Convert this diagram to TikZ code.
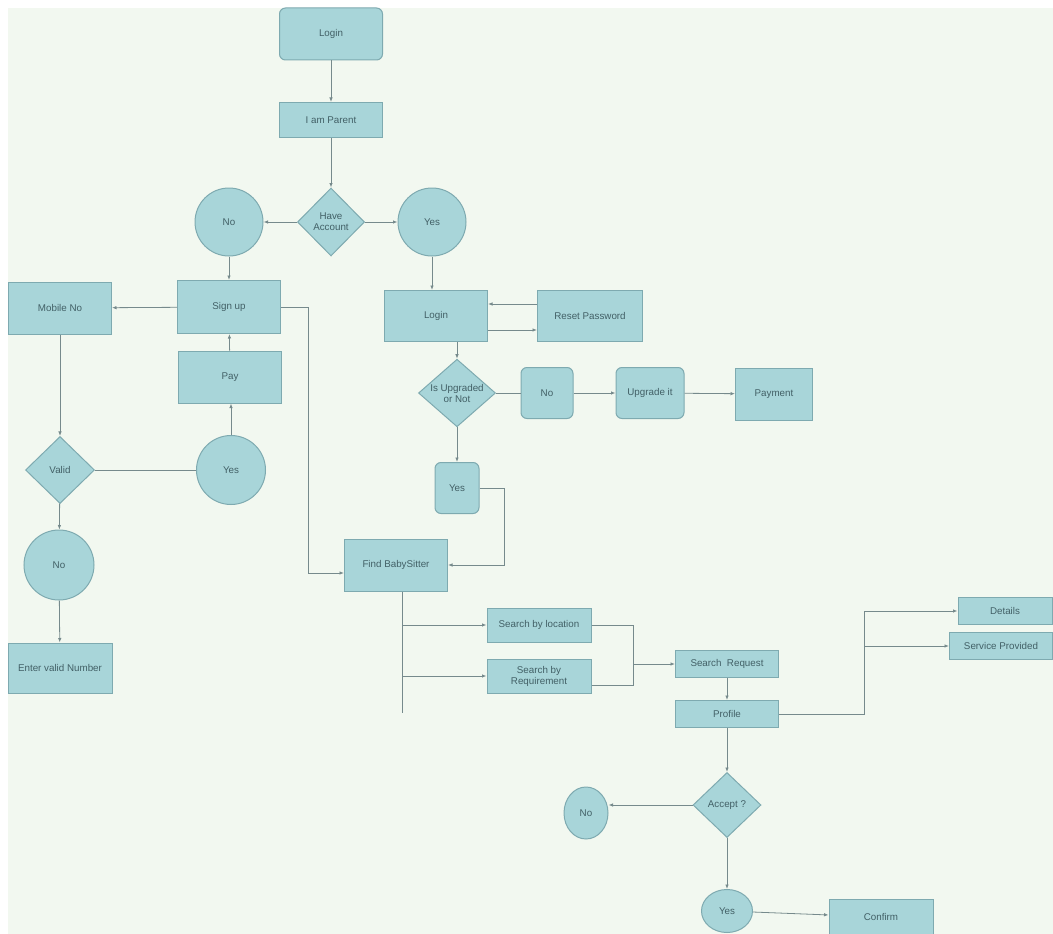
\documentclass[tikz,border=0pt]{standalone}
\usepackage{fontspec}
\setmainfont{Liberation Sans}
\usetikzlibrary{shapes.geometric,arrows.meta}

\definecolor{bgc}{RGB}{242,248,240}
\definecolor{nodefill}{RGB}{168,213,217}
\definecolor{nodedraw}{RGB}{126,170,176}
\definecolor{linec}{RGB}{118,138,140}
\definecolor{txtc}{RGB}{66,96,102}

\tikzset{every picture/.style={line width=0.75pt}}
\tikzset{
  base/.style={draw=nodedraw, fill=nodefill, text=txtc, line width=1pt,
    font=\fontsize{9.8}{11}\selectfont, align=center, inner sep=1pt},
  box/.style 2 args={base, rectangle, minimum width=#1, minimum height=#2},
  rbox/.style 2 args={base, rectangle, rounded corners=6pt, minimum width=#1, minimum height=#2},
  decision/.style 2 args={base, diamond, inner sep=-1pt, minimum width=#1, minimum height=#2},
  circ/.style={base, circle, inner sep=0pt, minimum size=#1},
  ell/.style 2 args={base, ellipse, inner sep=0pt, minimum width=#1, minimum height=#2},
  conn/.style={draw=linec, line width=0.8pt, -{Latex[length=4.5pt,width=3.5pt]}},
  plain/.style={draw=linec, line width=0.8pt}
}

\begin{document}
\begin{tikzpicture}[x=1pt,y=1pt,yscale=-1]
\useasboundingbox (0,0) rectangle (1053,934);
%Background
\fill[white] (0,0) rectangle (1053,934);
\fill[bgc] (8,8) rectangle (1053,934);

%Shape: top part
\node[rbox={103}{52}] (login) at (331,34) {Login};
\node[box={103}{35}] (parent) at (331,120) {I am Parent};
\node[decision={67}{68}] (hasacc) at (331,222) {Have\\Account};
\node[circ=68] (nocirc) at (229,222) {No};
\node[circ=68] (yescirc) at (432,222) {Yes};

%Shape: sign up side
\node[box={103}{53}] (signup) at (229,307) {Sign up};
\node[box={103}{52}] (mobile) at (60,308) {Mobile No};
\node[box={103}{52}] (pay) at (230,377) {Pay};
\node[decision={69}{67}] (valid) at (60,470) {Valid};
\node[circ=69] (yesleft) at (231,470) {Yes};
\node[circ=70] (noleft) at (59,565) {No};
\node[box={104}{50}] (entervalid) at (60,668) {Enter valid Number};

%Shape: login side
\node[box={103}{51}] (login2) at (436,316) {Login};
\node[box={105}{51}] (reset) at (590,316) {Reset Password};
\node[decision={77}{67}] (isup) at (457,393) {Is Upgraded\\or Not};
\node[rbox={52}{51}] (noup) at (547,393) {No};
\node[rbox={68}{51}] (upgrade) at (650,393) {Upgrade it};
\node[box={77}{52}] (payment) at (774,394) {Payment};
\node[rbox={44}{51}] (yesup) at (457,488) {Yes};

%Shape: search part
\node[box={103}{52}] (findbs) at (396,565) {Find BabySitter};
\node[box={104}{34}] (loc) at (539,625) {Search by location};
\node[box={104}{34}] (req) at (539,676) {Search by\\Requirement};
\node[box={103}{27}] (sreq) at (727,664) {Search\ \ Request};
\node[box={103}{27}] (profile) at (727,714) {Profile};
\node[box={94}{27}] (details) at (1005,611) {Details};
\node[box={103}{27}] (service) at (1001,646) {Service Provided};
\node[decision={68}{65}] (accept) at (727,805) {Accept ?};
\node[ell={44}{52}] (noacc) at (586,813) {No};
\node[ell={51}{43}] (yesacc) at (727,911) {Yes};
\node[box={104}{36}] (confirm) at (881,917) {Confirm};

%Straight Lines
\draw[conn] (login) -- (parent);
\draw[conn] (parent) -- (hasacc);
\draw[conn] (hasacc) -- (nocirc);
\draw[conn] (hasacc) -- (yescirc);
\draw[conn] (nocirc) -- (nocirc |- signup.north);
\draw[conn] (yescirc) -- (yescirc |- login2.north);
\draw[conn] (signup) -- (mobile);
\draw[conn] (pay) -- (signup);
\draw[conn] (yesleft) -- (yesleft |- pay.south);
\draw[plain] (valid) -- (yesleft);
\draw[conn] (mobile) -- (valid);
\draw[conn] (valid) -- (noleft);
\draw[conn] (noleft) -- (entervalid);
\draw[conn] (signup.east) -- ++(27,0) |- ([yshift=8pt]findbs.west);
\draw[conn] ([yshift=-12pt]reset.west) -- ([yshift=-12pt]login2.east);
\draw[conn] ([yshift=14pt]login2.east) -- ([yshift=14pt]reset.west);
\draw[conn] (login2.south -| isup) -- (isup);
\draw[plain] (isup) -- (noup);
\draw[conn] (noup) -- (upgrade);
\draw[conn] (upgrade) -- (payment);
\draw[conn] (isup) -- (yesup);
\draw[conn] (yesup.east) -- ++(25,0) |- (findbs.east);

%Branches
\coordinate (trunkend) at (402,713);
\draw[plain] (findbs.south -| trunkend) -- (trunkend);
\draw[conn] (loc.west -| trunkend) -- (loc.west);
\draw[conn] (req.west -| trunkend) -- (req.west);
\coordinate (merge) at (633,664);
\draw[plain] (loc.east) -| ([yshift=9pt]req.east -| merge) -- ([yshift=9pt]req.east);
\draw[conn] (merge) -- (sreq);
\draw[conn] (sreq) -- (profile);
\coordinate (split) at (864,714);
\draw[conn] (profile.east) -- (split) |- (details.west);
\draw[conn] (split |- service.west) -- (service.west);
\draw[conn] (profile) -- (accept);
\draw[conn] (accept.west) -- (accept.west -| noacc.east);
\draw[conn] (accept) -- (yesacc);
\draw[conn] (yesacc) -- (confirm);

\end{tikzpicture}
\end{document}
